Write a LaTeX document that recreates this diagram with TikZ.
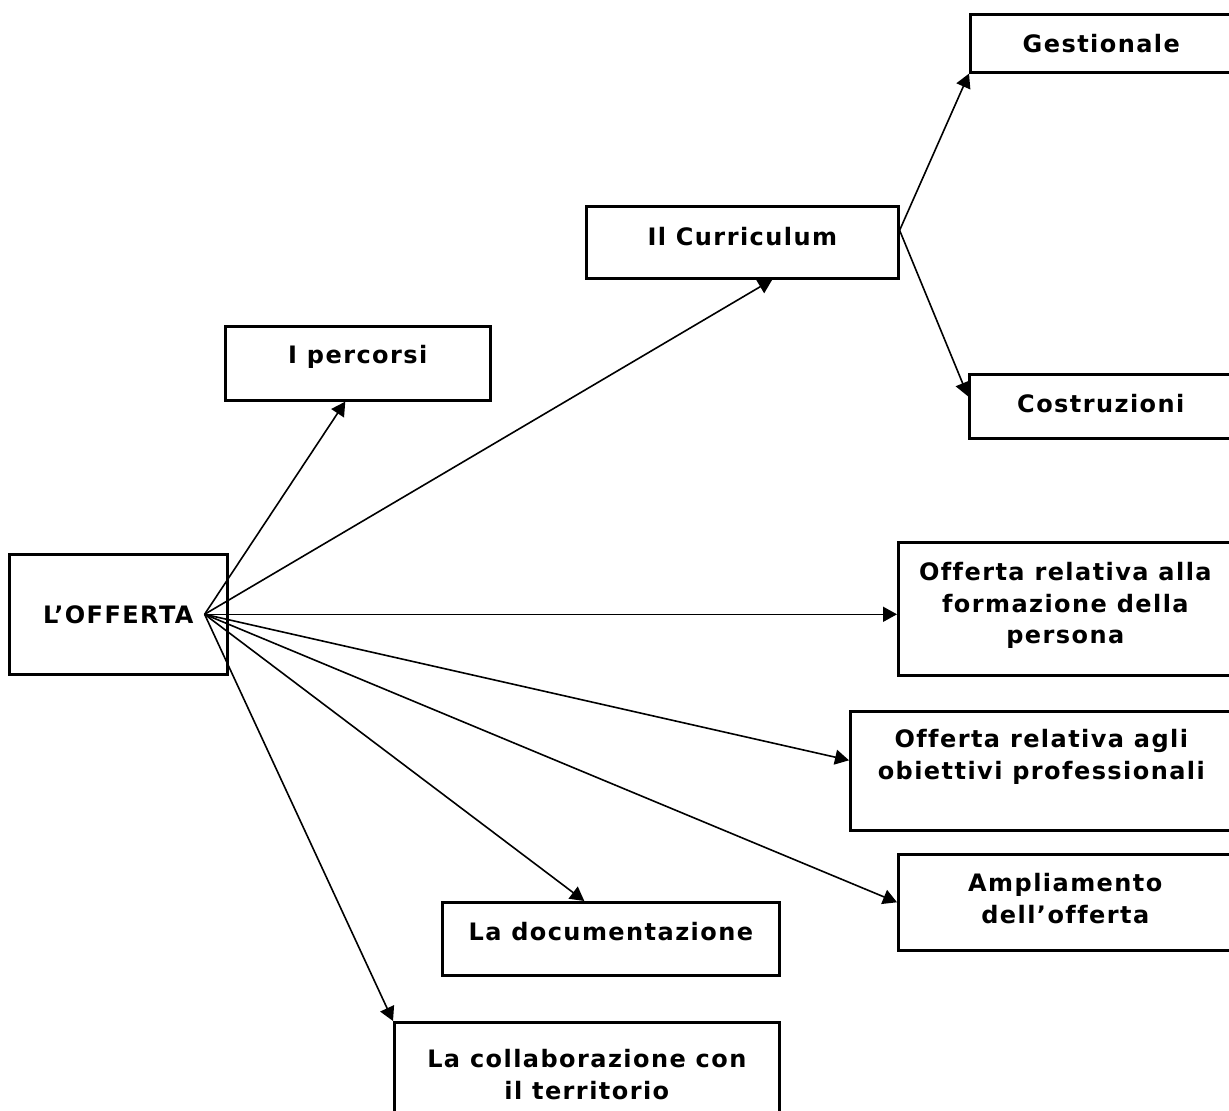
\documentclass[tikz,border=0pt]{standalone}
\usepackage{fontspec}
\setmainfont{DejaVu Sans}[LetterSpace=6,Ligatures=CommonOff]
\usetikzlibrary{arrows.meta,positioning}
\newcommand\boxfont{\fontsize{12}{15.75}\selectfont\bfseries}

\begin{document}
\begin{tikzpicture}[x=0.5pt,y=-0.5pt,
    >={Triangle[length=7pt,width=7.5pt]},
    box/.style={draw,line width=1.3pt,anchor=north west,inner sep=0pt,align=center,font=\boxfont},
    oneline/.style={text height=9pt,text depth=#1},
    oneline/.default=0.2pt,
    link/.style={->,line width=0.8pt}]
   \useasboundingbox (0,0) rectangle (1229,1111);
   % boxes
   \node[box,oneline,minimum width=109pt,minimum height=60pt] (off) at (8,553) {L’OFFERTA};
   \node[box,oneline=9.2pt,minimum width=132.5pt,minimum height=37pt] (perc) at (224,325) {I percorsi};
   \node[box,oneline=6.2pt,minimum width=156pt,minimum height=36pt] (curr) at (585,205) {Il Curriculum};
   \node[box,oneline,minimum width=131pt,minimum height=29pt] (gest) at (969,13) {Gestionale};
   \node[box,oneline=3.2pt,minimum width=131.5pt,minimum height=32pt] (cost) at (968,373) {Costruzioni};
   \node[box,text depth=5.8pt,minimum width=167pt,minimum height=66.5pt] (form) at (897,541) {Offerta relativa alla\\formazione della\\persona};
   \node[box,text depth=16.5pt,minimum width=191pt,minimum height=59.5pt] (obj) at (849,710) {Offerta relativa agli\\obiettivi professionali};
   \node[box,text depth=4pt,minimum width=167pt,minimum height=48pt] (amp) at (897,853) {Ampliamento\\dell’offerta};
   \node[box,oneline=7.2pt,minimum width=168.5pt,minimum height=36.5pt] (doc) at (441,901) {La documentazione};
   \node[box,minimum width=192.5pt,minimum height=52pt] (coll) at (393,1021) {La collaborazione con\\il territorio};
   \coordinate (hub) at ([xshift=-12pt]off.east);
   % arrows
   \path[link]
    (hub) edge ([xshift=-6.25pt]perc.south)
          edge ([xshift=15pt]curr.south)
          edge (hub -| form.west)
          edge ([yshift=5.25pt]obj.west)
          edge (amp.west)
          edge ([xshift=-13.25pt]doc.north)
          edge (coll.north west)
    ([yshift=6pt]curr.east) edge (gest.south west)
                            edge ([yshift=5pt]cost.west);
\end{tikzpicture}
\end{document}
